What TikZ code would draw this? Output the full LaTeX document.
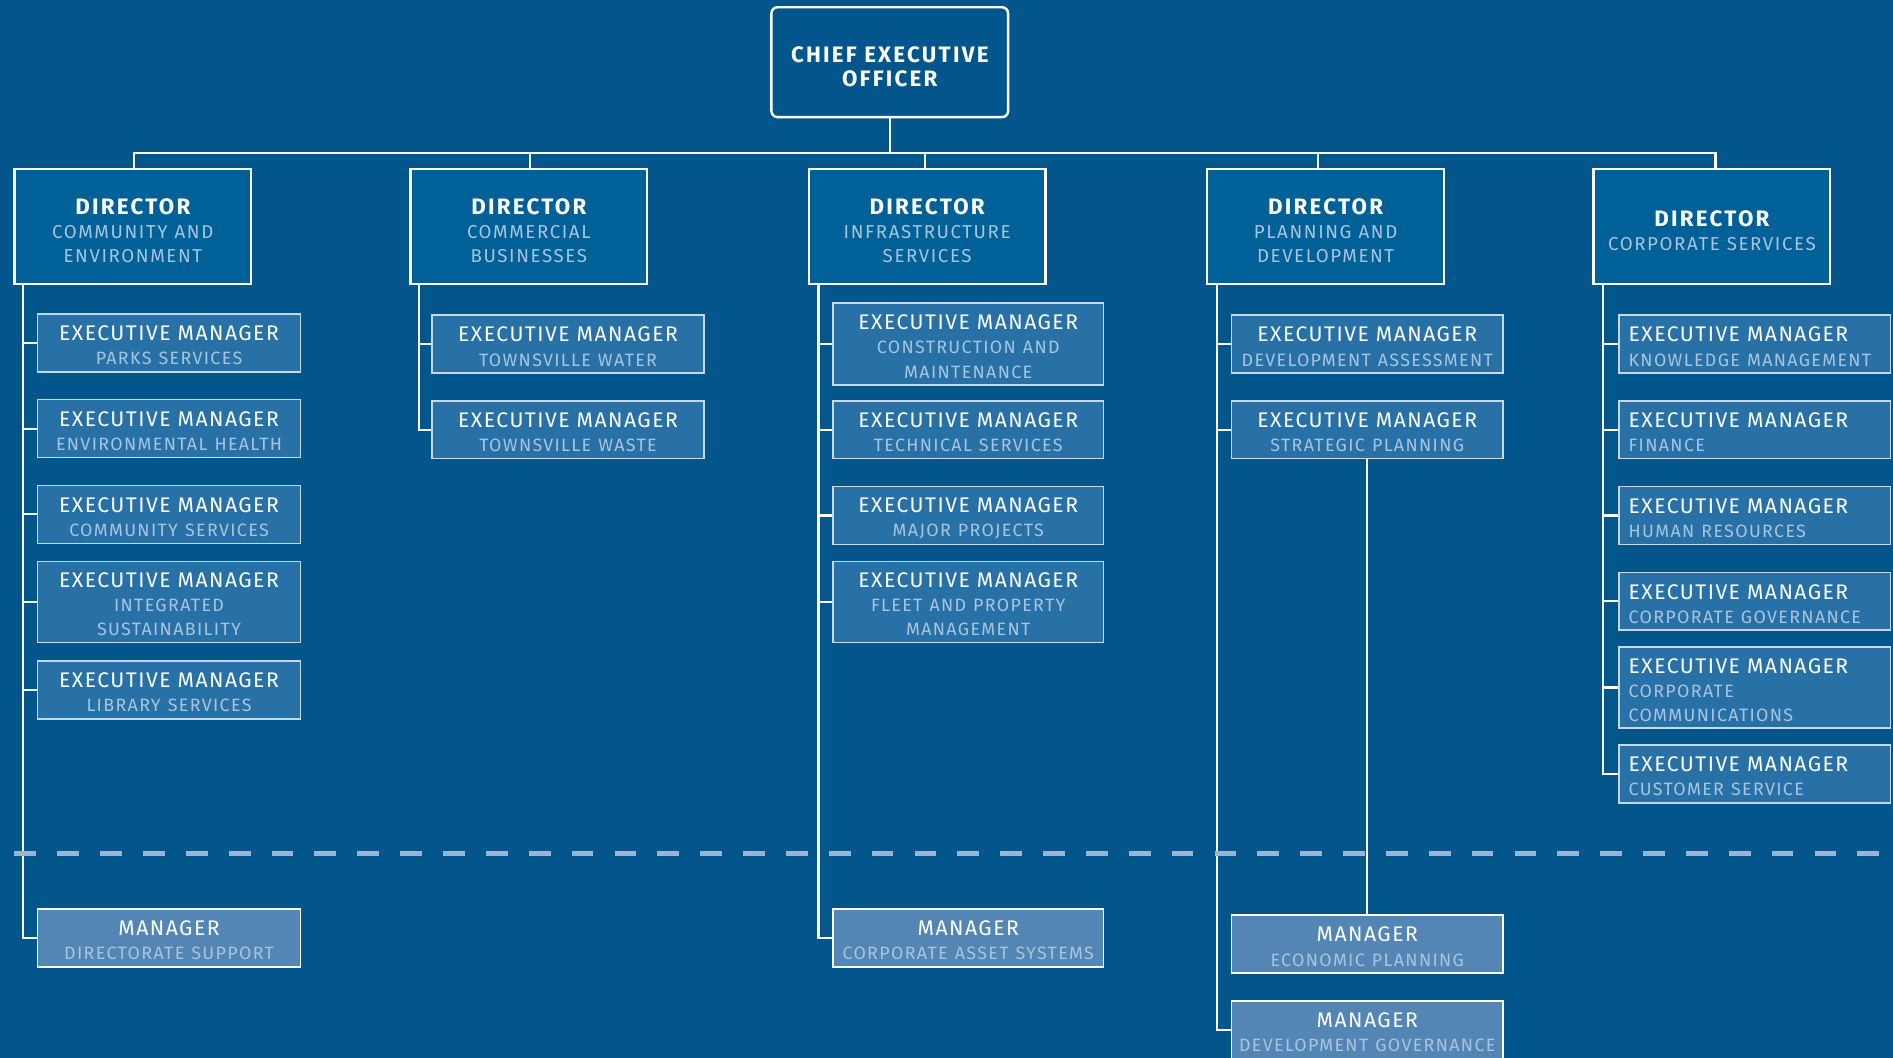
\documentclass[tikz,border=0pt]{standalone}
\usepackage{fontspec}
\setmainfont{Fira Sans}
\newfontfamily\HdFont[LetterSpace=7]{Fira Sans}
\newfontfamily\SbFont[LetterSpace=7.5]{Fira Sans}
\newfontfamily\DsFont[LetterSpace=8.5]{Fira Sans}
\newfontfamily\BdFont[LetterSpace=10]{Fira Sans Bold}
\definecolor{bg}{HTML}{03568C}
\definecolor{dirfill}{HTML}{006098}
\definecolor{execfill}{HTML}{2771A7}
\definecolor{mgrfill}{HTML}{5386B4}
\definecolor{subtxt}{HTML}{A8C4DE}
\definecolor{dashc}{HTML}{9BB4D4}
\definecolor{execedge}{HTML}{C8D8E8}
\newcommand\HdT{\HdFont\fontsize{17.5}{20}\selectfont\color{white}\rule{0pt}{16.5pt}}
\newcommand\SbT{\SbFont\fontsize{14.8}{20}\selectfont\color{subtxt}}
\newcommand\DsT{\DsFont\fontsize{15.5}{20}\selectfont\color{subtxt}}
\newcommand\BdT{\BdFont\fontsize{18.5}{20}\selectfont\color{white}}
\newcommand\BdD{\BdT\rule{0pt}{19.7pt}}
\newcommand\BdC{\BdT\rule{0pt}{20.7pt}}
\begin{document}
\begin{tikzpicture}[x=1pt,y=-1pt,
  conn/.style={draw=white,line width=1.8pt},
  ceobox/.style={draw=white,line width=2pt,rounded corners=5pt,fill=bg,minimum width=196pt,minimum height=91pt,inner sep=0pt,align=center,text width=190pt,font=\fontsize{18.5}{19.5}\selectfont},
  dirbox/.style={draw=white,line width=2pt,fill=dirfill,minimum width=196pt,minimum height=95pt,inner sep=0pt,align=center,text width=190pt,font=\fontsize{17.5}{20}\selectfont},
  exec/.style={draw=execedge,line width=1.2pt,fill=execfill,minimum height=48pt,minimum width=#1,text width=#1-6pt,inner xsep=3pt,inner ysep=0pt,align=center,font=\fontsize{17.5}{20}\selectfont},
  exec/.default=225pt,
  execl/.style={draw=execedge,line width=1.2pt,fill=execfill,minimum height=48pt,minimum width=225pt,text width=209pt,inner xsep=8pt,inner ysep=0pt,align=left,font=\fontsize{17.5}{20}\selectfont},
  mgr/.style={draw=white,line width=1.2pt,fill=mgrfill,minimum height=48pt,minimum width=#1,text width=#1-6pt,inner xsep=3pt,inner ysep=0pt,align=center,font=\fontsize{17.5}{20}\selectfont},
  mgr/.default=225pt,
  dashline/.style={draw=dashc,line width=4pt,dash pattern=on 18pt off 17.5pt}
]
\clip (0,0) rectangle (1568,876);
\fill[bg] (0,0) rectangle (1568,876);

% CEO
\node[ceobox] (ceo) at (737,51.5) {\BdC CHIEF EXECUTIVE\\OFFICER};

% Directors
\node[dirbox] (d1) at (110,187.5) {\BdD DIRECTOR\\\DsT COMMUNITY AND\\ENVIRONMENT};
\node[dirbox] (d2) at (438,187.5) {\BdD DIRECTOR\\\DsT COMMERCIAL\\BUSINESSES};
\node[dirbox] (d3) at (768,187.5) {\BdD DIRECTOR\\\DsT INFRASTRUCTURE\\SERVICES};
\node[dirbox] (d4) at (1098,187.5) {\BdD DIRECTOR\\\DsT PLANNING AND\\DEVELOPMENT};
\node[dirbox] (d5) at (1418,187.5) {\BdD DIRECTOR\\\DsT CORPORATE SERVICES};

% bus
\coordinate (bus) at (0,127);
\draw[conn] (ceo.south) -- (ceo.south |- bus);
\draw[conn] ([xshift=1pt]d1.north) -- ([xshift=1pt]d1.north |- bus) -- ([xshift=3pt]d5.north |- bus) -- ([xshift=3pt]d5.north);
\draw[conn] ([xshift=1pt]d2.north) -- ([xshift=1pt]d2.north |- bus);
\draw[conn] ([xshift=-2pt]d3.north) -- ([xshift=-2pt]d3.north |- bus);
\draw[conn] ([xshift=-6pt]d4.north) -- ([xshift=-6pt]d4.north |- bus);

% Column 1
\node[exec=218pt] (e11) at (140,284) {\HdT EXECUTIVE MANAGER\\\SbT PARKS SERVICES};
\node[exec=218pt] (e12) at (140,355) {\HdT EXECUTIVE MANAGER\\\SbT ENVIRONMENTAL HEALTH};
\node[exec=218pt] (e13) at (140,426) {\HdT EXECUTIVE MANAGER\\\SbT COMMUNITY SERVICES};
\node[exec=218pt,minimum height=67pt] (e14) at (140,498.5) {\HdT EXECUTIVE MANAGER\\\SbT INTEGRATED\\SUSTAINABILITY};
\node[exec=218pt] (e15) at (140,571.5) {\HdT EXECUTIVE MANAGER\\\SbT LIBRARY SERVICES};
\node[mgr=218pt] (m11) at (140,777) {\HdT MANAGER\\\SbT DIRECTORATE SUPPORT};

% Column 2
\node[exec] (e21) at (470.5,285) {\HdT EXECUTIVE MANAGER\\\SbT TOWNSVILLE WATER};
\node[exec] (e22) at (470.5,356) {\HdT EXECUTIVE MANAGER\\\SbT TOWNSVILLE WASTE};

% Column 3
\node[exec=224pt,minimum height=68pt] (e31) at (802,285) {\HdT EXECUTIVE MANAGER\\\SbT CONSTRUCTION AND\\MAINTENANCE};
\node[exec=224pt] (e32) at (802,356) {\HdT EXECUTIVE MANAGER\\\SbT TECHNICAL SERVICES};
\node[exec=224pt] (e33) at (802,427) {\HdT EXECUTIVE MANAGER\\\SbT MAJOR PROJECTS};
\node[exec=224pt,minimum height=67pt] (e34) at (802,498.5) {\HdT EXECUTIVE MANAGER\\\SbT FLEET AND PROPERTY\\MANAGEMENT};
\node[mgr=224pt] (m31) at (802,777) {\HdT MANAGER\\\SbT CORPORATE ASSET SYSTEMS};

% Column 4
\node[exec] (e41) at (1132.5,285) {\HdT EXECUTIVE MANAGER\\\SbT DEVELOPMENT ASSESSMENT};
\node[exec] (e42) at (1132.5,356) {\HdT EXECUTIVE MANAGER\\\SbT STRATEGIC PLANNING};
\node[mgr] (m41) at (1132.5,782) {\HdT MANAGER\\\SbT ECONOMIC PLANNING};
\node[mgr] (m42) at (1132.5,853) {\HdT MANAGER\\\SbT DEVELOPMENT GOVERNANCE};

% Column 5
\node[execl] (e51) at (1453.5,285) {\HdT EXECUTIVE MANAGER\\\SbT KNOWLEDGE MANAGEMENT};
\node[execl] (e52) at (1453.5,356) {\HdT EXECUTIVE MANAGER\\\SbT FINANCE};
\node[execl] (e53) at (1453.5,427) {\HdT EXECUTIVE MANAGER\\\SbT HUMAN RESOURCES};
\node[execl] (e54) at (1453.5,498) {\HdT EXECUTIVE MANAGER\\\SbT CORPORATE GOVERNANCE};
\node[execl,minimum height=67pt] (e55) at (1453.5,569.5) {\HdT EXECUTIVE MANAGER\\\SbT CORPORATE\\COMMUNICATIONS};
\node[execl] (e56) at (1453.5,641) {\HdT EXECUTIVE MANAGER\\\SbT CUSTOMER SERVICE};

% spines
\foreach \e in {e11,e12,e13,e14,e15,m11}
  \draw[conn] ([xshift=8pt]d1.south west) |- (\e.west);
\foreach \e in {e21,e22}
  \draw[conn] ([xshift=8pt]d2.south west) |- (\e.west);
\foreach \e in {e31,e32,e33,e34,m31}
  \draw[conn] ([xshift=9pt]d3.south west) |- (\e.west);
\foreach \e in {e41,e42,m42}
  \draw[conn] ([xshift=9pt]d4.south west) |- (\e.west);
\foreach \e in {e51,e52,e53,e54,e55,e56}
  \draw[conn] ([xshift=9pt]d5.south west) |- (\e.west);
\draw[conn] (e42.south) -- (m41.north);

% dashed separator
\coordinate (dl) at (12,707);
\coordinate (dr) at (1568,707);
\draw[dashline] (dl) -- (dr);
\end{tikzpicture}
\end{document}
